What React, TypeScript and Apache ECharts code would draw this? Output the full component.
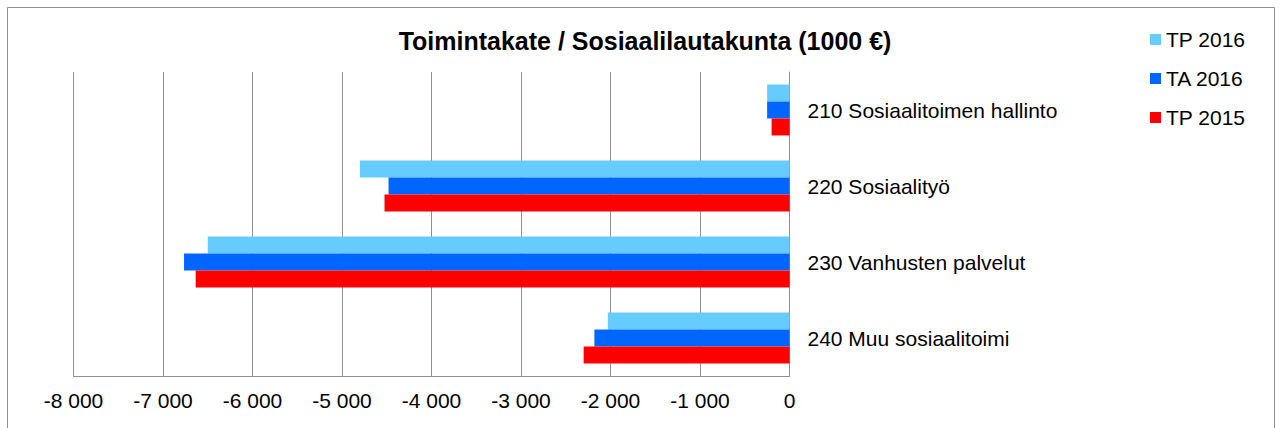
import React, { useEffect, useRef } from "react";
import * as echarts from "echarts";

const categories = [
  "210 Sosiaalitoimen hallinto",
  "220 Sosiaalityö",
  "230 Vanhusten palvelut",
  "240 Muu sosiaalitoimi",
];
const tp2016 = [-250, -4800, -6500, -2030];
const ta2016 = [-250, -4480, -6765, -2180];
const tp2015 = [-200, -4525, -6635, -2300];
const seriesNames = ["TP 2016", "TA 2016", "TP 2015"];
const colors = ["#66CCFF", "#0066FF", "#FF0000"];
const xTicks = { min: -8000, max: 0, interval: 1000 };

const fmt = (v: number) => {
  if (v === 0) return "0";
  const s = Math.abs(v).toString().replace(/\B(?=(\d{3})+(?!\d))/g, " ");
  return (v < 0 ? "-" : "") + s;
};

export default function App() {
  const ref = useRef<HTMLDivElement>(null);
  useEffect(() => {
    if (!ref.current) return;
    const chart = echarts.init(ref.current, null, { renderer: "svg" });
    const font = "'Liberation Sans', Arial, sans-serif";
    const data = [tp2016, ta2016, tp2015];
    chart.setOption({
      animation: false,
      backgroundColor: "#ffffff",
      textStyle: { fontFamily: font },
      title: {
        text: "Toimintakate / Sosiaalilautakunta (1000 €)",
        left: 645,
        textAlign: "center",
        top: 28,
        padding: 0,
        textStyle: { fontSize: 25, fontWeight: "bold", color: "#000", fontFamily: font },
      },
      legend: {
        orient: "vertical",
        left: 1150,
        top: 29,
        padding: 0,
        itemWidth: 11,
        itemHeight: 11,
        itemGap: 18,
        icon: "rect",
        textStyle: { fontSize: 21, color: "#000", fontFamily: font },
        data: seriesNames,
      },
      graphic: [
        {
          type: "rect",
          shape: { x: 7.5, y: 7.5, width: 1267, height: 440 },
          style: { fill: "none", stroke: "#8F8F8F", lineWidth: 1 },
          silent: true,
        },
      ],
      grid: { left: 73.5, right: 1283 - 789.5, top: 72, bottom: 428 - 376 },
      xAxis: {
        type: "value",
        min: xTicks.min,
        max: xTicks.max,
        interval: xTicks.interval,
        axisLine: { show: true, onZero: false, lineStyle: { color: "#8F8F8F", width: 1 } },
        axisTick: { show: false },
        splitLine: { show: true, lineStyle: { color: "#8F8F8F", width: 1 } },
        axisLabel: {
          formatter: (v: number) => fmt(v),
          fontSize: 21,
          color: "#000",
          margin: 14,
          fontFamily: font,
        },
      },
      yAxis: {
        type: "category",
        data: categories,
        inverse: true,
        position: "right",
        axisLine: { show: true, lineStyle: { color: "#8F8F8F", width: 1 } },
        axisTick: { show: false },
        axisLabel: {
          fontSize: 21,
          color: "#000",
          margin: 18,
          align: "left",
          fontFamily: font,
        },
      },
      series: seriesNames.map((n, i) => ({
        name: n,
        type: "bar",
        data: data[i],
        barGap: "0%",
        barCategoryGap: "33%",
        itemStyle: { color: colors[i] },
      })),
    });
    return () => chart.dispose();
  }, []);
  return (
    <div
      ref={ref}
      style={{ position: "absolute", left: 0, top: 0, width: 1283, height: 428 }}
    />
  );
}
